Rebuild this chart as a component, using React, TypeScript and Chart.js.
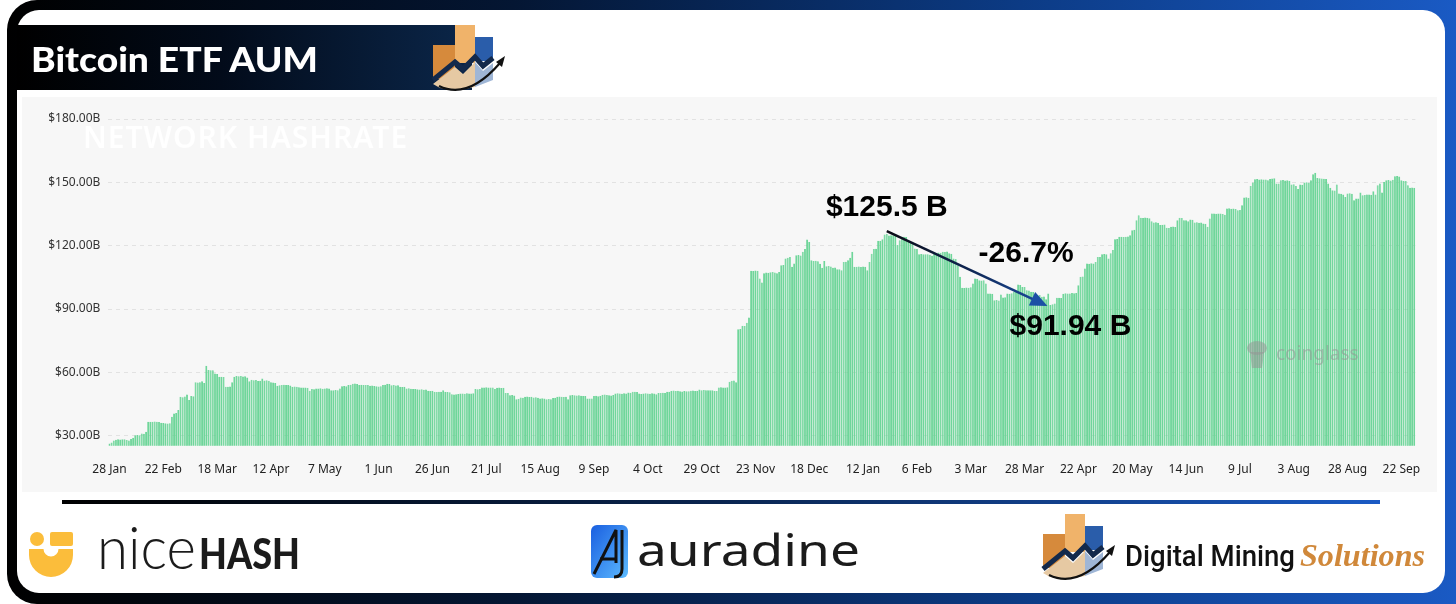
import React, { useEffect, useRef } from 'react';
import { Chart, registerables } from 'chart.js';

Chart.register(...registerables);

// ---- data ----
const TICK_LABELS = [
  '28 Jan', '22 Feb', '18 Mar', '12 Apr', '7 May', '1 Jun', '26 Jun', '21 Jul', '15 Aug',
  '9 Sep', '4 Oct', '29 Oct', '23 Nov', '18 Dec', '12 Jan', '6 Feb', '3 Mar', '28 Mar',
  '22 Apr', '20 May', '14 Jun', '9 Jul', '3 Aug', '28 Aug', '22 Sep',
];
const TICK_EVERY = 25;
const Y_TICKS = [30, 60, 90, 120, 150, 180];
const Y_MIN = 25.3;
const Y_MAX = 180;

// Bitcoin ETF assets under management, daily, in $ billions
const AUM_BILLIONS = [
  26.4, 26.8, 27.8, 28.1, 28.3, 28.2, 28.3, 28.4, 28.0, 27.8,
  28.5, 29.1, 30.3, 30.4, 30.2, 31.1, 31.0, 31.9, 36.6, 36.7,
  36.6, 36.8, 36.6, 36.5, 36.2, 36.0, 35.9, 35.8, 35.9, 39.0,
  40.6, 40.8, 42.2, 48.5, 48.3, 48.6, 49.6, 46.9, 48.8, 48.7,
  55.3, 55.2, 55.4, 55.8, 55.0, 63.1, 61.2, 61.0, 61.0, 59.5,
  59.3, 57.9, 58.0, 57.8, 53.2, 53.2, 53.3, 55.3, 57.9, 58.3,
  58.2, 58.3, 58.1, 58.2, 57.6, 55.8, 56.5, 56.3, 56.4, 55.9,
  56.1, 57.1, 56.2, 56.3, 56.1, 55.3, 55.2, 55.0, 53.7, 53.9,
  54.1, 54.2, 54.1, 54.0, 53.8, 53.2, 53.3, 53.2, 53.0, 52.9,
  52.8, 52.9, 52.7, 51.3, 52.1, 52.0, 52.4, 52.4, 52.5, 52.3,
  52.4, 52.5, 52.4, 51.6, 51.5, 51.7, 51.6, 52.4, 53.4, 53.6,
  53.5, 54.0, 54.2, 54.6, 54.7, 54.5, 54.1, 54.2, 54.1, 54.0,
  54.1, 53.7, 53.8, 53.6, 53.4, 53.3, 53.5, 54.1, 54.2, 54.6,
  54.5, 53.9, 54.0, 53.8, 53.9, 53.2, 53.1, 53.2, 52.4, 52.5,
  52.3, 52.1, 52.2, 52.0, 51.9, 52.0, 51.8, 51.9, 51.3, 51.2,
  51.3, 50.8, 50.7, 50.9, 50.8, 51.6, 50.8, 50.7, 50.6, 49.7,
  49.6, 49.7, 49.8, 50.0, 50.0, 49.9, 50.1, 50.0, 50.0, 50.1,
  52.1, 52.0, 52.2, 52.9, 52.8, 53.0, 52.9, 52.8, 52.9, 52.1,
  52.7, 52.8, 52.6, 52.7, 50.3, 50.2, 49.2, 49.3, 49.1, 47.3,
  47.5, 48.1, 48.0, 48.5, 48.6, 48.4, 48.5, 48.1, 48.2, 48.0,
  47.6, 47.8, 47.7, 47.3, 47.4, 47.3, 47.9, 48.0, 48.5, 48.6,
  48.5, 48.4, 48.5, 47.3, 49.2, 49.3, 49.2, 49.1, 49.2, 49.0,
  48.8, 48.8, 47.6, 47.7, 47.6, 48.8, 48.9, 48.7, 48.9, 49.4,
  49.5, 49.3, 49.2, 49.1, 49.3, 50.0, 50.1, 50.0, 49.9, 50.1,
  50.0, 50.5, 50.4, 50.8, 50.9, 50.7, 50.0, 49.8, 50.0, 50.1,
  50.0, 49.9, 50.1, 50.0, 49.7, 50.3, 50.2, 50.4, 50.3, 50.8,
  50.8, 51.3, 51.4, 51.2, 51.3, 51.1, 51.0, 51.2, 51.1, 51.1,
  51.3, 51.4, 51.2, 51.3, 51.9, 51.6, 51.7, 51.5, 51.6, 51.6,
  51.5, 51.3, 51.2, 52.9, 53.0, 52.9, 52.8, 53.0, 55.6, 56.1,
  56.2, 55.4, 80.5, 80.6, 82.1, 82.0, 83.5, 86.0, 108.1, 108.0,
  108.3, 108.1, 104.5, 102.6, 106.9, 107.3, 107.2, 107.4, 107.5, 107.3,
  106.9, 107.5, 110.8, 110.9, 113.9, 114.3, 114.7, 110.0, 111.6, 115.5,
  115.6, 115.4, 117.1, 118.4, 122.9, 121.8, 113.1, 112.8, 112.9, 112.7,
  111.5, 109.6, 112.8, 110.3, 110.4, 110.2, 109.6, 109.7, 108.8, 108.9,
  108.4, 112.3, 112.4, 113.1, 114.3, 117.1, 110.0, 110.0, 110.2, 109.9,
  110.1, 110.0, 108.4, 112.3, 116.2, 118.4, 118.6, 122.3, 122.4, 123.1,
  125.3, 125.5, 124.8, 125.0, 124.9, 125.1, 120.3, 122.6, 124.2, 124.3,
  124.1, 121.9, 121.7, 121.9, 118.7, 118.5, 116.0, 116.1, 115.9, 116.0,
  115.9, 115.7, 115.2, 116.4, 116.3, 116.8, 116.7, 117.1, 117.0, 117.2,
  116.4, 116.2, 113.9, 113.7, 110.8, 105.3, 100.1, 100.0, 100.2, 100.1,
  100.3, 102.1, 104.5, 104.3, 103.7, 103.5, 103.6, 102.1, 97.4, 97.4,
  97.2, 94.2, 94.3, 94.0, 96.9, 95.5, 95.6, 97.4, 97.3, 97.5,
  98.2, 98.3, 101.6, 101.4, 100.5, 100.4, 98.9, 98.8, 98.2, 98.1,
  96.6, 96.5, 96.7, 95.8, 95.9, 94.7, 97.4, 91.94, 92.3, 92.6,
  95.3, 95.4, 95.2, 97.3, 97.5, 97.4, 97.4, 97.6, 97.5, 97.6,
  101.3, 105.3, 105.4, 109.2, 111.6, 111.5, 111.7, 111.6, 112.3, 114.7,
  114.6, 116.0, 116.1, 116.0, 113.9, 116.4, 118.0, 123.1, 123.2, 124.2,
  124.3, 124.1, 124.2, 124.4, 125.0, 127.3, 127.5, 132.1, 134.4, 133.2,
  133.1, 133.3, 133.2, 133.0, 131.6, 131.0, 131.1, 130.9, 129.8, 129.9,
  130.1, 128.5, 128.4, 129.0, 129.1, 128.9, 132.1, 133.2, 133.1, 132.1,
  132.0, 131.6, 132.4, 132.3, 131.0, 131.1, 130.9, 131.0, 130.5, 130.4,
  129.0, 132.9, 135.2, 135.3, 135.1, 135.2, 135.3, 135.0, 134.7, 137.6,
  137.7, 137.5, 137.6, 137.4, 136.8, 136.9, 139.2, 142.8, 142.9, 142.7,
  148.3, 149.9, 151.5, 151.6, 151.4, 151.5, 151.3, 151.4, 151.0, 151.6,
  151.8, 151.9, 149.4, 149.5, 151.0, 151.1, 150.9, 151.0, 150.8, 149.0,
  149.1, 148.3, 146.8, 149.0, 148.9, 149.9, 150.0, 149.8, 151.0, 153.8,
  154.6, 152.1, 152.0, 151.8, 151.7, 151.6, 149.4, 147.4, 146.3, 146.2,
  149.0, 144.7, 144.6, 144.2, 143.1, 144.7, 144.8, 144.6, 141.5, 142.3,
  142.4, 145.2, 143.9, 144.0, 144.2, 144.3, 144.1, 145.8, 144.2, 148.6,
  149.4, 145.2, 150.2, 151.0, 151.1, 150.9, 151.2, 152.9, 153.0, 152.8,
  151.0, 150.6, 150.7, 148.6, 147.5, 147.6, 147.4,
];

const CATEGORIES = AUM_BILLIONS.map((_, i) =>
  i % TICK_EVERY === 0 ? TICK_LABELS[i / TICK_EVERY] ?? '' : ''
);

const PEAK = { index: 361, value: 125.5, label: '$125.5 B' };
const TROUGH = { index: 437, value: 91.94, label: '$91.94 B' };
const CHANGE_LABEL = '-26.7%';
const WATERMARK = 'NETWORK HASHRATE';

const overlayPlugin = {
  id: 'overlay',
  beforeDatasetsDraw(chart: any) {
    const ctx = chart.ctx;
    ctx.save();
    ctx.font = '600 30px "Noto Sans"';
    (ctx as any).letterSpacing = '1px';
    ctx.fillStyle = 'rgba(255,255,255,0.9)';
    ctx.textBaseline = 'middle';
    ctx.textAlign = 'left';
    ctx.fillText(WATERMARK, 61, 42);
    ctx.restore();
  },
  afterDatasetsDraw(chart: any) {
    const ctx = chart.ctx;
    const xs = chart.scales.x;
    const ys = chart.scales.y;
    ctx.save();

    // coinglass watermark
    ctx.fillStyle = 'rgba(150,150,150,0.55)';
    ctx.beginPath();
    ctx.ellipse(1235, 251, 10, 7, 0, 0, Math.PI * 2);
    ctx.fill();
    ctx.beginPath();
    ctx.moveTo(1228, 255);
    ctx.lineTo(1242, 255);
    ctx.lineTo(1240, 271);
    ctx.lineTo(1230, 271);
    ctx.closePath();
    ctx.fill();
    ctx.font = '19px "Noto Sans"';
    ctx.textBaseline = 'middle';
    ctx.textAlign = 'left';
    ctx.fillText('coinglass', 1254, 258);

    // arrow
    const x1 = xs.getPixelForValue(PEAK.index);
    const y1 = ys.getPixelForValue(PEAK.value) - 3;
    const x2 = xs.getPixelForValue(TROUGH.index) - 3;
    const y2 = ys.getPixelForValue(TROUGH.value) + 1;
    const ang = Math.atan2(y2 - y1, x2 - x1);
    const headLen = 17;
    const headW = 7.5;
    const bx = x2 - headLen * Math.cos(ang);
    const by = y2 - headLen * Math.sin(ang);
    const grad = ctx.createLinearGradient(x1, y1, x2, y2);
    grad.addColorStop(0, '#0a0a14');
    grad.addColorStop(0.5, '#0f2550');
    grad.addColorStop(1, '#1a4ea3');
    ctx.strokeStyle = grad;
    ctx.lineWidth = 2.6;
    ctx.beginPath();
    ctx.moveTo(x1, y1);
    ctx.lineTo(bx + 2 * Math.cos(ang), by + 2 * Math.sin(ang));
    ctx.stroke();
    ctx.fillStyle = '#1b4fa5';
    ctx.beginPath();
    ctx.moveTo(x2, y2);
    ctx.lineTo(bx - headW * Math.sin(ang), by + headW * Math.cos(ang));
    ctx.lineTo(bx + headW * Math.sin(ang), by - headW * Math.cos(ang));
    ctx.closePath();
    ctx.fill();

    // labels
    ctx.fillStyle = '#000000';
    ctx.font = 'bold 30px "Liberation Sans"';
    ctx.textAlign = 'center';
    ctx.textBaseline = 'middle';
    ctx.fillText(PEAK.label, x1, y1 - 23);
    ctx.fillText(TROUGH.label, x2 + 23, y2 + 21);
    ctx.fillText(CHANGE_LABEL, (x1 + x2) / 2 + 59, (y1 + y2) / 2 - 15);
    ctx.restore();
  },
};

function ChartPanel() {
  const ref = useRef<HTMLCanvasElement | null>(null);
  useEffect(() => {
    if (!ref.current) return;
    const chart = new Chart(ref.current, {
      type: 'bar',
      data: {
        labels: CATEGORIES,
        datasets: [
          {
            data: AUM_BILLIONS,
            backgroundColor: '#6ed69a',
            borderColor: '#1fbd5e',
            borderWidth: { left: 0.5, top: 0, right: 0, bottom: 0 },
            borderSkipped: false,
            barPercentage: 1,
            categoryPercentage: 0.9,
          } as any,
        ],
      },
      options: {
        animation: false,
        responsive: false,
        maintainAspectRatio: false,
        devicePixelRatio: 1,
        layout: { padding: { top: 22, right: 21.6, left: 0, bottom: 0 } },
        plugins: { legend: { display: false }, tooltip: { enabled: false } },
        scales: {
          x: {
            grid: { display: false },
            border: { display: false },
            ticks: {
              autoSkip: false,
              maxRotation: 0,
              minRotation: 0,
              padding: 9,
              color: '#222222',
              font: { family: 'Noto Sans', size: 12 },
            },
            afterFit: (s: any) => {
              s.height = 46.3;
            },
          },
          y: {
            min: Y_MIN,
            max: Y_MAX,
            afterBuildTicks: (s: any) => {
              s.ticks = Y_TICKS.map((value) => ({ value }));
            },
            grid: { color: '#e2e2e2', drawTicks: false, lineWidth: 1 },
            border: { display: false, dash: [4, 4] },
            ticks: {
              padding: 8,
              color: '#333333',
              font: { family: 'Noto Sans', size: 12 },
              callback: (v: any) => '$' + Number(v).toFixed(2) + 'B',
            },
            afterFit: (s: any) => {
              s.width = 86.4;
            },
          },
        },
      },
      plugins: [overlayPlugin],
    });
    return () => chart.destroy();
  }, []);
  return <canvas ref={ref} width={1415} height={395} style={{ display: 'block', width: 1415, height: 395 }} />;
}

function DmsLogo({ x, y }: { x: number; y: number }) {
  return (
    <g transform={`translate(${x},${y})`}>
      <rect x="3" y="25" width="22" height="34" fill="#d68a3c" />
      <rect x="25" y="5" width="20" height="38" fill="#f0b36a" />
      <rect x="45" y="17" width="18" height="24" fill="#2a5daa" />
      <polygon points="3,64 25,47 33,54 45,42 45,67 28,70 10,68" fill="#e6c9a3" />
      <polygon points="45,42 53,51 63,43 63,60 45,67" fill="#9fb6d6" />
      <polyline points="3,60 25,42 33,49 45,37 53,46 63,38" fill="none" stroke="#13294b" strokeWidth="5" />
      <path d="M9,66 Q38,80 70,43" fill="none" stroke="#111" strokeWidth="2.2" />
      <polygon points="75,36 66,42 72,47" fill="#111" />
    </g>
  );
}

export default function App() {
  return (
    <div
      style={{
        position: 'absolute',
        left: 0,
        top: 0,
        width: 1456,
        height: 604,
        overflow: 'hidden',
        background: '#ffffff',
        fontFamily: '"Noto Sans", sans-serif',
      }}
    >
      <div
        style={{
          position: 'absolute',
          left: 7,
          top: 0,
          width: 1449,
          height: 604,
          borderRadius: '30px 0 0 30px',
          background: 'linear-gradient(90deg, #000000 0%, #041633 35%, #0c3b85 70%, #1a5ac4 100%)',
        }}
      />
      <div
        style={{
          position: 'absolute',
          left: 17,
          top: 10,
          width: 1428,
          height: 583,
          borderRadius: 22,
          background: '#ffffff',
        }}
      />
      <div
        style={{
          position: 'absolute',
          left: 17,
          top: 25,
          width: 455,
          height: 65,
          background: 'linear-gradient(90deg, #000000 0%, #020b1a 45%, #0b2649 100%)',
        }}
      />
      <div style={{ position: 'absolute', left: 22, top: 97, width: 1415, height: 395, background: '#f7f7f7' }}>
        <ChartPanel />
      </div>
      <div
        style={{
          position: 'absolute',
          left: 62,
          top: 500,
          width: 1318,
          height: 4,
          background: 'linear-gradient(90deg, #000000 0%, #0a2550 50%, #1a5ac4 100%)',
        }}
      />
      <svg
        width={1456}
        height={604}
        style={{ position: 'absolute', left: 0, top: 0, pointerEvents: 'none' }}
      >
        <defs>
          <linearGradient id="auraGrad" x1="0" y1="0" x2="1" y2="1">
            <stop offset="0" stopColor="#1a5fe0" />
            <stop offset="1" stopColor="#5cbaff" />
          </linearGradient>
        </defs>
        <text
          x={31}
          y={72}
          fill="#ffffff"
          fontFamily="Lato"
          fontWeight={900}
          fontSize={35}
          textLength={287}
          lengthAdjust="spacingAndGlyphs"
        >
          Bitcoin ETF AUM
        </text>
        <DmsLogo x={430} y={20} />

        {/* nicehash */}
        <g transform="translate(28,530)">
          <circle cx="9" cy="9" r="7" fill="#fbbd3b" />
          <rect x="22" y="2" width="23" height="14" rx="2" fill="#fbbd3b" />
          <path d="M1,19 H15.5 A7.5,7.5 0 0 0 30.5,19 H45 V25 A22,22 0 0 1 1,25 Z" fill="#fbbd3b" />
        </g>
        <text x={97} y={569} fill="#1b1b1b" fontFamily="Lato" fontWeight={300} fontSize={60} textLength={99} lengthAdjust="spacingAndGlyphs">
          nice
        </text>
        <text x={199} y={569} fill="#1b1b1b" fontFamily="Lato" fontWeight={900} fontSize={42} textLength={101} lengthAdjust="spacingAndGlyphs">
          HASH
        </text>

        {/* auradine */}
        <g transform="translate(591,525)">
          <rect x="0" y="0" width="37" height="53" rx="6" fill="url(#auraGrad)" />
          <path d="M3,49 L25,5 L25,38" stroke="#111" strokeWidth="3" fill="none" />
          <path d="M9,34 H25" stroke="#111" strokeWidth="3" />
          <path d="M31,5 V44 Q31,52 23,52" stroke="#111" strokeWidth="3" fill="none" />
        </g>
        <text x={637} y={566} fill="#1b1b1b" fontFamily="Noto Sans" fontWeight={400} fontSize={44} textLength={223} lengthAdjust="spacingAndGlyphs">
          auradine
        </text>

        {/* Digital Mining Solutions */}
        <DmsLogo x={1040} y={509} />
        <text x={1125} y={566} fill="#111111" fontFamily="Roboto" fontWeight={500} fontSize={29} textLength={170} lengthAdjust="spacingAndGlyphs">
          Digital Mining
        </text>
        <text x={1300} y={566} fill="#d0883a" fontFamily="Liberation Serif" fontWeight={700} fontStyle="italic" fontSize={31} textLength={125} lengthAdjust="spacingAndGlyphs">
          Solutions
        </text>
      </svg>
    </div>
  );
}
